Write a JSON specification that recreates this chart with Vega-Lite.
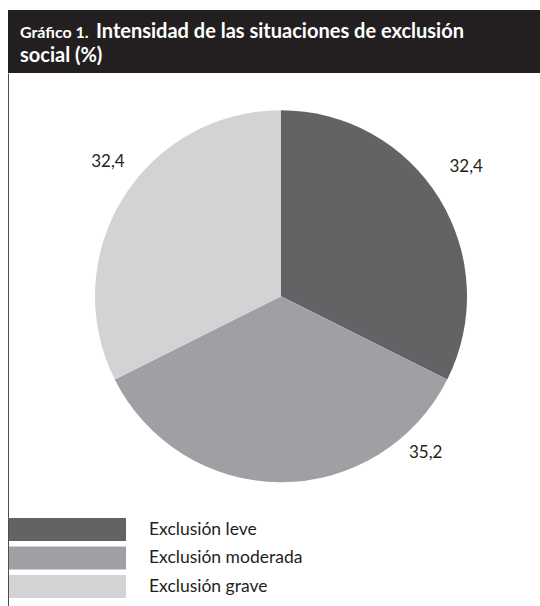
{
  "$schema": "https://vega.github.io/schema/vega-lite/v6.json",
  "padding": {"left": 7, "top": 10, "right": 0, "bottom": 0},
  "background": "white",
  "spacing": 0,
  "bounds": "flush",
  "config": {"view": {"stroke": null}, "font": "Lato"},
  "datasets": {
    "slices": [
      {"cat": "Exclusión leve", "value": 32.4, "label": "32,4", "ord": 1},
      {"cat": "Exclusión moderada", "value": 35.2, "label": "35,2", "ord": 2},
      {"cat": "Exclusión grave", "value": 32.4, "label": "32,4", "ord": 3}
    ]
  },
  "vconcat": [
    {
      "width": 533,
      "height": 63,
      "view": {"fill": "#231f20", "stroke": null},
      "data": {"values": [{"k": 1}]},
      "layer": [
        {"mark": {"type": "text", "text": "Gráfico 1.", "x": 12, "y": 28, "align": "left", "baseline": "alphabetic", "font": "Lato", "fontWeight": "bold", "fontSize": 16, "fill": "white"}, "encoding": {}},
        {"mark": {"type": "text", "text": "Intensidad de las situaciones de exclusión", "x": 88, "y": 28, "align": "left", "baseline": "alphabetic", "font": "Lato", "fontWeight": "bold", "fontSize": 20, "fill": "white"}, "encoding": {}},
        {"mark": {"type": "text", "text": "social (%)", "x": 12, "y": 51.5, "align": "left", "baseline": "alphabetic", "font": "Lato", "fontWeight": "bold", "fontSize": 20, "fill": "white"}, "encoding": {}}
      ]
    },
    {
      "width": 533,
      "height": 445,
      "view": {"stroke": "#4d4d4d", "strokeWidth": 1, "strokeDash": [0, 1511, 445]},
      "data": {"name": "slices"},
      "encoding": {
        "theta": {"field": "value", "type": "quantitative", "stack": true},
        "order": {"field": "ord", "type": "quantitative"},
        "x": {"value": 273},
        "y": {"value": 223.2}
      },
      "layer": [
        {
          "mark": {"type": "arc", "outerRadius": 186},
          "encoding": {
            "color": {"field": "cat", "type": "nominal", "legend": null,
              "scale": {"domain": ["Exclusión leve", "Exclusión moderada", "Exclusión grave"], "range": ["#636366", "#9fa0a4", "#d2d3d5"]}}
          }
        },
        {
          "mark": {"type": "text", "radius": 225.7, "thetaOffset": -0.056, "align": "center", "baseline": "middle", "fontSize": 17, "font": "Lato", "fill": "#231f20"},
          "encoding": {
            "detail": {"field": "cat", "type": "nominal"},
            "text": {"condition": {"test": "datum.ord == 1", "field": "label"}, "value": ""}
          }
        },
        {
          "mark": {"type": "text", "radius": 213.6, "thetaOffset": -0.744, "align": "center", "baseline": "middle", "fontSize": 17, "font": "Lato", "fill": "#231f20"},
          "encoding": {
            "detail": {"field": "cat", "type": "nominal"},
            "text": {"condition": {"test": "datum.ord == 2", "field": "label"}, "value": ""}
          }
        },
        {
          "mark": {"type": "text", "radius": 219.3, "thetaOffset": 0.108, "align": "center", "baseline": "middle", "fontSize": 17, "font": "Lato", "fill": "#231f20"},
          "encoding": {
            "detail": {"field": "cat", "type": "nominal"},
            "text": {"condition": {"test": "datum.ord == 3", "field": "label"}, "value": ""}
          }
        }
      ]
    },
    {
      "width": 533,
      "height": 88,
      "view": {"stroke": "#4d4d4d", "strokeWidth": 1, "strokeDash": [0, 1154, 88]},
      "data": {"name": "slices"},
      "encoding": {
        "y": {"field": "cat", "type": "nominal", "axis": null,
          "scale": {"domain": ["Exclusión leve", "Exclusión moderada", "Exclusión grave"], "paddingInner": 0.19, "paddingOuter": 0.139, "align": 0}}
      },
      "layer": [
        {
          "mark": {"type": "rect"},
          "encoding": {
            "x": {"value": 1},
            "x2": {"value": 118},
            "color": {"field": "cat", "type": "nominal", "legend": null,
              "scale": {"domain": ["Exclusión leve", "Exclusión moderada", "Exclusión grave"], "range": ["#636366", "#9fa0a4", "#d2d3d5"]}}
          }
        },
        {
          "mark": {"type": "text", "align": "left", "baseline": "middle", "fontSize": 17.5, "font": "Lato", "fill": "#231f20"},
          "encoding": {
            "x": {"value": 141},
            "y": {"field": "cat", "type": "nominal", "bandPosition": 0.5},
            "text": {"field": "cat"}
          }
        }
      ]
    }
  ]
}
